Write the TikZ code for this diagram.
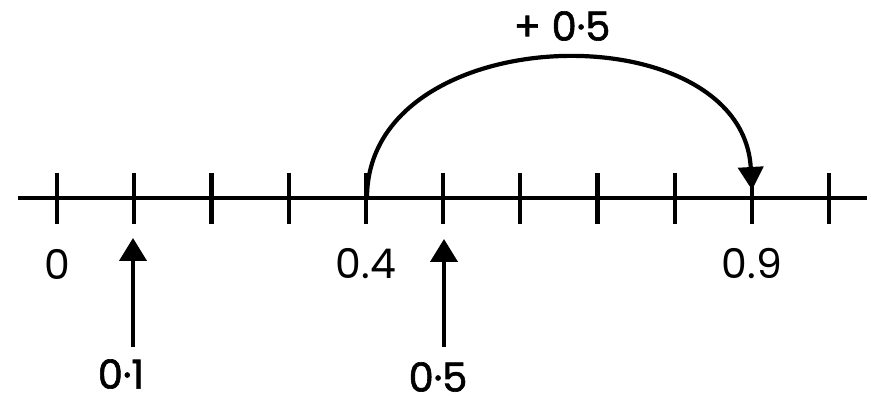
\documentclass[tikz,border=0pt]{standalone}
\usepackage{fontspec}
\setmainfont{Poppins}
\usetikzlibrary{arrows.meta}
\begin{document}
\begin{tikzpicture}[x=1pt,y=-1pt,
  axis/.style={line width=4.4pt},
  tick/.style={line width=4.2pt},
  jump/.style={line width=4.2pt,-{Triangle[width=25pt,length=23pt]}},
  pointer/.style={line width=4.2pt,-{Triangle[width=27pt,length=23pt]}},
  numlabel/.style={font=\fontsize{41}{45}\selectfont,inner sep=0pt},
  handlabel/.style={font=\fontsize{40}{44}\selectfont\addfontfeatures{FakeBold=1.5},inner sep=0pt}]
\useasboundingbox (0,0) rectangle (879,406);
\coordinate (L) at (18,198);
\coordinate (R) at (867,198);
\draw[axis] (L) -- (R);
\foreach \i in {0,...,10} {
  \coordinate (t\i) at ({57+77.2*\i},198);
  \draw[tick] ([yshift=-26pt]t\i) -- ([yshift=25pt]t\i);
}
\node[numlabel] (l0) at (57,264) {0};
\node[numlabel] (l4) at (366,264) {0.4};
\node[numlabel] (l9) at (752,264) {0.9};
\coordinate (p1s) at (133,347);
\coordinate (p1e) at (133,238);
\coordinate (p5s) at (444,347);
\coordinate (p5e) at (444,239);
\draw[pointer] (p1s) -- (p1e);
\draw[pointer] (p5s) -- (p5e);
\node[handlabel] (h1) at (121,374) {0·1};
\node[handlabel] (h5) at (438,377) {0·5};
\coordinate (js) at (367,198);
\coordinate (je) at (752,190);
\draw[jump] (js) .. controls (367,18) and (742,10) .. (je);
\node[handlabel] (plus) at (562,26) {+ 0·5};
\end{tikzpicture}
\end{document}
